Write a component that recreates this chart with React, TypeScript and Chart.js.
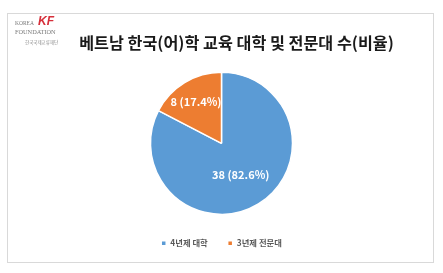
import React, { useEffect, useRef } from "react";
import { Chart, registerables } from "chart.js";

Chart.register(...registerables);

const TITLE = "베트남 한국(어)학 교육 대학 및 전문대 수(비율)";
const CATEGORIES = ["4년제 대학", "3년제 전문대"];
const COUNTS = [38, 8];
const COLORS = ["#5B9BD5", "#ED7D31"];
const LABEL_FRACTIONS = [0.52, 0.69];

const FONT = "'Noto Sans CJK KR', 'Noto Sans', sans-serif";

const framePlugin = {
  id: "frame",
  beforeDraw(chart: any) {
    const ctx = chart.ctx;
    ctx.save();
    ctx.fillStyle = "#ffffff";
    ctx.fillRect(0, 0, chart.width, chart.height);
    ctx.strokeStyle = "#d9d9d9";
    ctx.lineWidth = 1;
    ctx.strokeRect(7.5, 13.5, 426, 249);
    // logo
    ctx.textBaseline = "middle";
    ctx.textAlign = "left";
    ctx.fillStyle = "#7a7a7a";
    ctx.font = `5.5px 'Liberation Serif', serif`;
    ctx.fillText("KOREA", 15, 24);
    ctx.font = `6.3px 'Liberation Serif', serif`;
    ctx.fillText("FOUNDATION", 15, 32);
    ctx.font = `4.5px ${FONT}`;
    ctx.fillStyle = "#8a8a8a";
    ctx.fillText("한국국제교류재단", 25, 42);
    ctx.font = `italic bold 12px 'Liberation Sans', sans-serif`;
    ctx.fillStyle = "#d62f3a";
    ctx.fillText("KF", 38, 22);
    // title
    ctx.textAlign = "center";
    ctx.fillStyle = "#1a1a1a";
    ctx.font = `bold 16.2px ${FONT}`;
    ctx.fillText(TITLE, 236.5, 43);
    ctx.restore();
  },
};

const labelPlugin = {
  id: "sliceLabels",
  afterDatasetsDraw(chart: any) {
    const ctx = chart.ctx;
    const meta = chart.getDatasetMeta(0);
    const data = chart.data.datasets[0].data as number[];
    const total = data.reduce((a, b) => a + b, 0);
    ctx.save();
    ctx.fillStyle = "#ffffff";
    ctx.font = `bold 11px ${FONT}`;
    ctx.textAlign = "center";
    ctx.textBaseline = "middle";
    meta.data.forEach((arc: any, i: number) => {
      const p = arc.getProps(["x", "y", "startAngle", "endAngle", "outerRadius"], true);
      const mid = (p.startAngle + p.endAngle) / 2;
      const r = p.outerRadius * LABEL_FRACTIONS[i];
      const x = p.x + Math.cos(mid) * r;
      const y = p.y + Math.sin(mid) * r;
      const pct = ((data[i] / total) * 100).toFixed(1);
      ctx.fillText(`${data[i]} (${pct}%)`, x, y);
    });
    ctx.restore();
  },
};

export default function App() {
  const ref = useRef<HTMLCanvasElement>(null);
  useEffect(() => {
    const chart = new Chart(ref.current as HTMLCanvasElement, {
      type: "pie",
      data: {
        labels: CATEGORIES,
        datasets: [
          {
            data: COUNTS,
            backgroundColor: COLORS,
            borderColor: "#ffffff",
            borderWidth: 1.5,
            radius: 71,
          },
        ],
      },
      options: {
        responsive: false,
        animation: false,
        layout: { padding: { top: 67.5, bottom: 15.5, left: 0, right: 0 } },
        plugins: {
          title: { display: false },
          tooltip: { enabled: false },
          legend: {
            position: "bottom",
            labels: {
              boxWidth: 5,
              boxHeight: 5,
              padding: 20,
              color: "#595959",
              font: { size: 8.3, family: FONT, weight: "bold" },
            },
          },
        },
      },
      plugins: [framePlugin, labelPlugin],
    });
    return () => chart.destroy();
  }, []);
  return (
    <div style={{ position: "fixed", left: 0, top: 0, width: 443, height: 273, background: "#fff" }}>
      <canvas ref={ref} width={443} height={273} style={{ display: "block" }} />
    </div>
  );
}
